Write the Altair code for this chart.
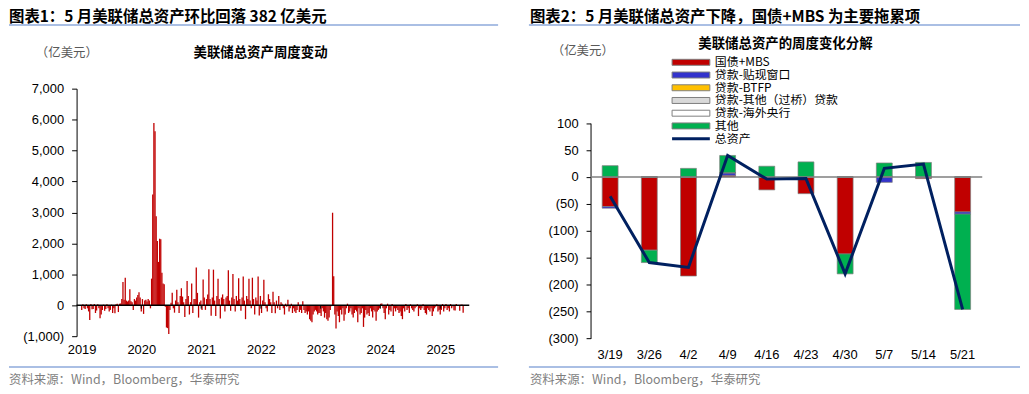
import altair as alt
import pandas as pd

# ---------------- texts ----------------
header_left = "图表1：5 月美联储总资产环比回落 382 亿美元"
header_right = "图表2：5 月美联储总资产下降，国债+MBS 为主要拖累项"
title_left = "美联储总资产周度变动"
title_right = "美联储总资产的周度变化分解"
unit_label = "（亿美元）"
source_text = "资料来源：Wind，Bloomberg，华泰研究"

# ---------------- left panel: weekly change of Fed total assets (亿美元) ----------------
vals_2019 = [-150, 30, -100, -120, 30, -100, -200, -480, 40, -130,
             -120, 40, -250, -170, 30, -100, -420, -300, -150, 20,
             -180, -120, 30, -100, -200, -150, 20, -250, -100, -260,
             30, 50, -220, 50, 60, 200, 750, 180, 890, 150,
             120, 150, 520, 130, 100, -150, 200, 150, 250, 330,
             420, 250]
vals_2020 = [-200, 200, -280, 150, 180, 120, 200, 150, -100, 860,
             3580, 5890, 5620, 2880, 2080, 1400, 2150, 2130, 1050, 700,
             680, -50, -720, -740, -930, -150, 80, 400, -100, -240,
             150, 500, 100, -250, 300, 550, 280, 100, -380, 200,
             780, 300, -300, 100, 700, -250, 200, 200, 1220, 400,
             -400, 100, 150]
vals_2021 = [-150, 830, 250, -150, 200, 350, 1160, 200, -340, 250,
             1150, 150, -350, 300, 860, 200, -430, 250, 350, 200,
             -200, 250, 300, 1130, 150, -180, 250, 1010, 200, -200,
             300, 150, 870, 200, -180, 250, 930, 150, -450, 300,
             200, 860, 150, -100, 890, 200, -300, 250, 150, 930,
             -330, 300]
vals_2022 = [-250, 150, 820, 100, -100, -200, 355, 200, 100, -250,
             440, 100, -260, 150, -100, 300, -150, 100, 50, -100,
             -300, 50, -50, 180, -200, -100, 50, -250, -100, -200,
             -250, -150, 100, -220, -150, -250, 130, -150, -250, -200,
             -300, -200, -450, -500, -550, -300, -200, -150, -200, -300,
             -250, -250]
vals_2023 = [-350, -100, -200, -400, -250, -450, -500, -400, -150, -30,
             2990, 940, -300, -750, -200, -350, -550, -150, -300, -100,
             -500, -300, -100, 50, -250, -200, -100, -300, -400, -250,
             -150, -200, -550, -100, -300, -250, -100, -700, -400, -150,
             -300, -250, -350, -100, -200, -400, -150, -200, -500, -200,
             -150, -100]
vals_2024 = [50, 60, -100, -250, -450, -100, 50, -300, -150, -200,
             40, -350, -100, -200, -100, -150, -250, -200, -350, -450,
             -100, -200, 40, -150, -100, -250, 30, -100, -150, -200,
             -100, -50, 30, -350, -100, -150, -100, 30, -150, -250,
             -300, -100, -150, -200, -100, -350, -200, -100, -50, 30,
             -200, -150]
vals_2025 = [-300, -150, 40, -200, -100, 40, -150, -100, -200, 40, -100,
             -36, -159, -168, 40, -4, -3, -180, 16, 24, -246]
weekly_change = vals_2019 + vals_2020 + vals_2021 + vals_2022 + vals_2023 + vals_2024 + vals_2025
week_dates = pd.date_range("2019-01-02", periods=len(weekly_change), freq="7D")
year_labels = [2019, 2020, 2021, 2022, 2023, 2024, 2025]
left_y_ticks = [-1000, 0, 1000, 2000, 3000, 4000, 5000, 6000, 7000]

# ---------------- right panel: decomposition (亿美元) ----------------
week_labels = ["3/19", "3/26", "4/2", "4/9", "4/16", "4/23", "4/30", "5/7", "5/14", "5/21"]
series_names = ["国债+MBS", "贷款-贴现窗口", "贷款-BTFP", "贷款-其他（过桥）贷款", "贷款-海外央行", "其他"]
tsy_mbs = [-55, -136, -184, 3, -24, -31, -143, 1, -3, -65]
discount_window = [-3, 0, 0, 5, 0, 0, 0, -10, 0, -4]
btfp = [0, 0, 0, 0, 0, 0, 0, 0, 0, 0]
other_bridge = [0, 0, 0, 0, 0, 0, 0, 0, 0, 0]
foreign_cb = [0, 0, 0, 0, 0, 0, 0, 0, 0, 0]
others = [21, -23, 16, 32, 20, 28, -37, 25, 27, -177]
total_assets = [-36, -159, -168, 40, -4, -3, -180, 16, 24, -246]
right_y_ticks = [-300, -250, -200, -150, -100, -50, 0, 50, 100]
line_name = "总资产"
series_colors = ["#C00000", "#3333CC", "#FFC000", "#D9D9D9", "#FFFFFF", "#00B050"]
line_color = "#002060"

FONT_CN = "Noto Sans CJK SC"
FONT_NUM = "Liberation Sans"
RULE_BLUE = "#8EAADB"
label_expr = ("datum.value < 0 ? '(' + format(-datum.value, ',') + ')' "
              ": format(datum.value, ',') + '\u00a0'")


def text_layer(txt, x, y, size, bold=False, color="black", align="left"):
    return alt.Chart(pd.DataFrame({"t": [txt]})).mark_text(
        align=align, baseline="middle", font=FONT_CN, fontSize=size,
        fontWeight="bold" if bold else "normal", color=color
    ).encode(text="t:N", x=alt.value(x), y=alt.value(y))


def hrule(x1, x2, y, color=RULE_BLUE, width=1.5, opacity=1):
    return alt.Chart(pd.DataFrame({"z": [0]})).mark_rule(
        color=color, strokeWidth=width, opacity=opacity
    ).encode(x=alt.value(x1), x2=alt.value(x2), y=alt.value(y))


def y_axis(values, tick_size, pad):
    return alt.Axis(values=values, labelExpr=label_expr, title=None, grid=False,
                    tickSize=tick_size, labelPadding=pad, domainColor="black",
                    tickColor="black", labelFontSize=13, labelFont=FONT_NUM,
                    labelColor="black", labelOverlap=False)


# ---------------- left chart ----------------
L_W, L_H = 395, 249
left_df = pd.DataFrame({"week": week_dates, "chg": weekly_change})
left_x_scale = alt.Scale(domain=[alt.DateTime(year=2019, month=1, date=1),
                                 alt.DateTime(year=2025, month=5, date=28)])
left_x_axis = alt.Axis(values=[alt.DateTime(year=y, month=1, date=1) for y in year_labels],
                       format="%Y", title=None, domain=False, ticks=False, grid=False,
                       labelPadding=7, labelFontSize=13, labelFont=FONT_NUM,
                       labelColor="black", labelFlush=False, labelOverlap=False)
left_y_scale = alt.Scale(domain=[-1000, 7000], nice=False, zero=False)
left_y_axis = y_axis(left_y_ticks, 5, 8)

left_bars = alt.Chart(left_df).mark_bar(color="#C00000", width=1.3).encode(
    x=alt.X("week:T", scale=left_x_scale, axis=left_x_axis),
    y=alt.Y("chg:Q", scale=left_y_scale, axis=left_y_axis),
)
left_zero = alt.Chart(pd.DataFrame({"z": [0]})).mark_rule(color="black", strokeWidth=1.3).encode(
    y=alt.Y(datum=0, axis=left_y_axis))
left_ticks = alt.Chart(pd.DataFrame({"yr": [pd.Timestamp(f"{y}-01-01") for y in year_labels[1:]]})).mark_rule(
    color="black", strokeWidth=1).encode(
    x=alt.X("yr:T", axis=left_x_axis), y=alt.Y(datum=0, axis=left_y_axis), y2=alt.Y2(datum=-110))

left = alt.layer(
    left_bars, left_zero, left_ticks,
    hrule(-68, -60, -80, opacity=0),
    text_layer(header_left, -68, -72, 15.5, bold=True),
    hrule(-68, 424, -64),
    text_layer(title_left, 185, -36, 13.5, bold=True, align="center"),
    text_layer(unit_label, -41, -36, 12.5, color="#595959"),
    hrule(-68, 424, 280),
    text_layer(source_text, -68, 293, 12.5, color="#7F7F7F"),
).properties(width=L_W, height=L_H)

# ---------------- right chart ----------------
R_W, R_H = 394, 252
rows = []
for k, (name, vals) in enumerate(zip(series_names,
                                     [tsy_mbs, discount_window, btfp, other_bridge, foreign_cb, others])):
    for d, v in zip(week_labels, vals):
        rows.append({"day": d, "series": name, "amt": v, "k": k})
right_df = pd.DataFrame(rows)
line_df = pd.DataFrame({"day": week_labels, "amt": total_assets, "s": [line_name] * len(week_labels)})

rect_sym = "M-6.33,-1L6.33,-1L6.33,1L-6.33,1Z"
line_sym = "M-6.33,0L6.33,0"

right_x_axis = alt.Axis(title=None, domain=False, ticks=False, labelAngle=0, labelPadding=9,
                        labelFontSize=13, labelFont=FONT_NUM, labelColor="black")
right_x_scale = alt.Scale(paddingInner=0, paddingOuter=0)
right_y_scale = alt.Scale(domain=[-300, 100], range=[251.3, 34.7], nice=False)
right_y_axis = y_axis(right_y_ticks, 4.5, 8)

right_bars = alt.Chart(right_df).mark_bar(size=16, stroke="#7F7F7F", strokeWidth=0.7).encode(
    x=alt.X("day:N", sort=week_labels, scale=right_x_scale, axis=right_x_axis),
    y=alt.Y("amt:Q", stack="zero", scale=right_y_scale, axis=right_y_axis),
    fill=alt.Fill("series:N", sort=series_names,
                  scale=alt.Scale(domain=series_names, range=series_colors),
                  legend=alt.Legend(orient="none", legendX=95, legendY=-32.5, title=None,
                                    symbolType=rect_sym, symbolSize=36,
                                    symbolStrokeColor="#7F7F7F", symbolStrokeWidth=1,
                                    labelOffset=18, labelFontSize=12, labelFont=FONT_CN,
                                    labelColor="black", rowPadding=0.8, padding=0)),
    order=alt.Order("k:Q", sort="ascending"),
)
right_zero = alt.Chart(pd.DataFrame({"z": [0]})).mark_rule(color="#7F7F7F", strokeWidth=1.5).encode(
    y=alt.Y(datum=0, axis=right_y_axis))
right_line = alt.Chart(line_df).mark_line(strokeWidth=3).encode(
    x=alt.X("day:N", sort=week_labels, scale=right_x_scale, axis=right_x_axis),
    y=alt.Y("amt:Q", axis=right_y_axis),
    stroke=alt.Stroke("s:N", scale=alt.Scale(domain=[line_name], range=[line_color]),
                      legend=alt.Legend(orient="none", legendX=95, legendY=44.5, title=None,
                                        symbolType=line_sym, symbolSize=36, symbolStrokeWidth=3,
                                        labelOffset=18, labelFontSize=12, labelFont=FONT_CN,
                                        labelColor="black", padding=0)),
)

right = alt.layer(
    right_bars, right_zero, right_line,
    text_layer(header_right, -61, -72, 15.5, bold=True),
    hrule(-62, 432, -64),
    text_layer(title_right, 196, -45, 13.5, bold=True, align="center"),
    text_layer(unit_label, -39, -38, 12.5, color="#595959"),
    hrule(-62, 432, 280),
    text_layer(source_text, -61, 293, 12.5, color="#7F7F7F"),
).properties(width=R_W, height=R_H)

chart = alt.hconcat(left, right, spacing=29).resolve_scale(
    x="independent", y="independent", fill="independent", stroke="independent"
).resolve_legend(fill="independent", stroke="independent").properties(
    padding=0).configure_view(stroke=None).configure_axis(labelOverlap=False)

chart.save("out.html", embed_options={"renderer": "svg", "actions": False})
